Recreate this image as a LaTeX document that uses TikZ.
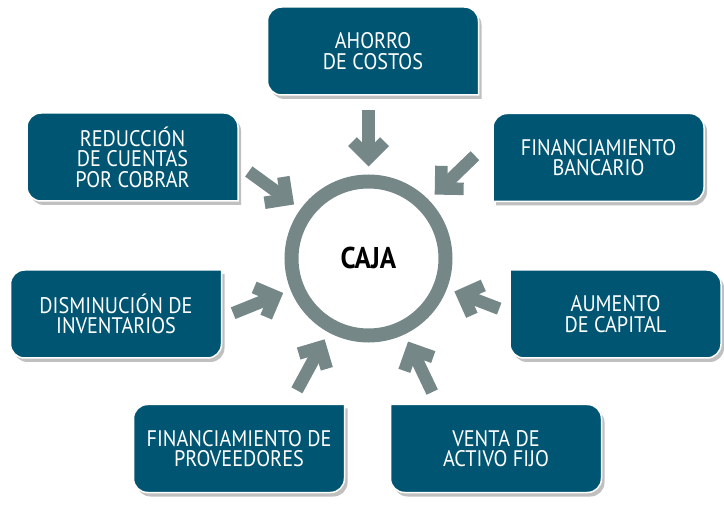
\documentclass[tikz,border=0pt]{standalone}
\usepackage{fontspec}
\setmainfont{PT Sans}[FakeStretch=0.9]
\usetikzlibrary{arrows.meta,calc,backgrounds,shadows}

\definecolor{boxblue}{RGB}{0,86,114}
\definecolor{ringgray}{RGB}{118,135,136}

\begin{document}
\begin{tikzpicture}[
  x=1pt,
  y=1pt,
  label/.style={minimum width=211pt, minimum height=88pt, inner sep=0pt, outer sep=0pt, align=center, text=white, font=\fontsize{22.5}{20.5}\selectfont},
  panel/.style={fill=boxblue, draw=white, line width=1.5pt, line cap=rect, rounded corners=14pt, drop shadow={shadow xshift=3pt, shadow yshift=-4pt, fill=black!45, opacity=.55}},
  hub/.style={circle, draw=ringgray, line width=14pt, minimum size=154pt, inner sep=0pt, font=\fontsize{30}{30}\bfseries\selectfont},
  flow/.style={draw=ringgray, line width=12.5pt, -{Straight Barb[length=16pt,width=32pt]}, shorten >=8pt}
]
  \useasboundingbox (0,0) rectangle (724,-505);

  \node[hub] (caja) at (368.5,-258.5) {CAJA};

  \node[label] (ahorro) at (373,-51) {AHORRO\\DE COSTOS};
  \node[label] (bancario) at (598.5,-157.5) {FINANCIAMIENTO\\BANCARIO};
  \node[label] (reduccion) at (132.5,-157) {REDUCCIÓN\\DE CUENTAS\\POR COBRAR};
  \node[label] (disminucion) at (116,-314) {DISMINUCIÓN DE\\INVENTARIOS};
  \node[label] (aumento) at (615.5,-314) {AUMENTO\\DE CAPITAL};
  \node[label] (proveedores) at (239,-448.5) {FINANCIAMIENTO DE\\PROVEEDORES};
  \node[label] (venta) at (496,-448.5) {VENTA DE\\ACTIVO FIJO};

  % panels: the corner facing the circle stays square
  \begin{scope}[on background layer]
    \path[panel] (ahorro.south east) -- (ahorro.south west) -- (ahorro.north west) -- (ahorro.north east) -- (ahorro.south east);
    \path[panel] (bancario.south west) -- (bancario.north west) -- (bancario.north east) -- (bancario.south east) -- (bancario.south west);
    \path[panel] (reduccion.south east) -- (reduccion.south west) -- (reduccion.north west) -- (reduccion.north east) -- (reduccion.south east);
    \path[panel] (disminucion.north east) -- (disminucion.south east) -- (disminucion.south west) -- (disminucion.north west) -- (disminucion.north east);
    \path[panel] (aumento.north west) -- (aumento.north east) -- (aumento.south east) -- (aumento.south west) -- (aumento.north west);
    \path[panel] (proveedores.north east) -- (proveedores.south east) -- (proveedores.south west) -- (proveedores.north west) -- (proveedores.north east);
    \path[panel] (venta.north west) -- (venta.north east) -- (venta.south east) -- (venta.south west) -- (venta.north west);
  \end{scope}

  % arrow tails round the circle
  \coordinate (fromAhorro) at ($(caja)+(90:148)$);
  \coordinate (fromBancario) at ($(caja)+(44:148)$);
  \coordinate (fromReduccion) at ($(caja)+(144:148)$);
  \coordinate (fromDisminucion) at ($(caja)+(202:146)$);
  \coordinate (fromAumento) at ($(caja)+(339:140)$);
  \coordinate (fromProveedores) at ($(caja)+(241.5:150)$);
  \coordinate (fromVenta) at ($(caja)+(295.5:148)$);

  \draw[flow] (fromAhorro) -- (caja);
  \draw[flow] (fromBancario) -- (caja);
  \draw[flow] (fromReduccion) -- (caja);
  \draw[flow] (fromDisminucion) -- (caja);
  \draw[flow] (fromAumento) -- (caja);
  \draw[flow] (fromProveedores) -- (caja);
  \draw[flow] (fromVenta) -- (caja);
\end{tikzpicture}
\end{document}
